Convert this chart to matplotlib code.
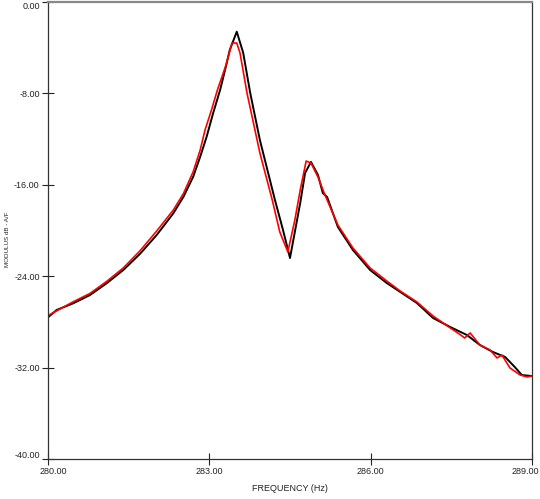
import numpy as np
import matplotlib.pyplot as plt
import matplotlib.transforms as mtransforms

plt.rcParams['font.family'] = ['Liberation Sans', 'DejaVu Sans']

# measured curve (black)
freq_meas = [280.00, 280.16, 280.47, 280.78, 281.09, 281.40, 281.71, 282.02, 282.33, 282.52,
             282.70, 282.83, 282.95, 283.07, 283.20, 283.30, 283.38, 283.51, 283.63, 283.76,
             283.94, 284.22, 284.37, 284.50, 284.69, 284.78, 284.89, 285.02, 285.11, 285.19,
             285.39, 285.67, 285.99, 286.30, 286.55, 286.86, 287.16, 287.48, 287.79, 288.03,
             288.27, 288.50, 288.68, 288.81, 289.00]
db_meas = [-27.60, -26.96, -26.37, -25.65, -24.62, -23.46, -22.05, -20.40, -18.50, -17.04,
           -15.29, -13.54, -11.79, -9.74, -7.70, -5.80, -4.20, -2.60, -4.46, -7.96,
           -12.08, -17.33, -19.96, -22.41, -17.59, -14.97, -14.00, -15.14, -16.72, -17.07,
           -19.69, -21.71, -23.46, -24.60, -25.38, -26.35, -27.66, -28.45, -29.15, -30.02,
           -30.63, -31.07, -31.95, -32.65, -32.74]

# synthesised curve (red)
freq_synth = [280.00, 280.46, 280.78, 281.09, 281.40, 281.71, 282.02, 282.33, 282.52, 282.70,
              282.83, 282.92, 283.04, 283.15, 283.31, 283.42, 283.51, 283.57, 283.70, 283.94,
              284.17, 284.31, 284.46, 284.59, 284.69, 284.80, 284.89, 285.02, 285.15, 285.39,
              285.67, 285.99, 286.30, 286.55, 286.86, 287.16, 287.48, 287.62, 287.75, 287.85,
              288.03, 288.22, 288.35, 288.44, 288.59, 288.78, 288.91, 289.00]
db_synth = [-27.45, -26.26, -25.51, -24.46, -23.28, -21.78, -20.05, -18.21, -16.75, -14.85,
            -12.95, -11.20, -9.45, -7.70, -5.51, -3.59, -3.59, -4.46, -7.96, -13.22,
            -17.33, -20.13, -21.88, -19.08, -16.46, -13.92, -14.09, -15.32, -16.89, -19.52,
            -21.53, -23.28, -24.42, -25.30, -26.26, -27.48, -28.53, -28.97, -29.41, -28.97,
            -30.02, -30.46, -31.16, -30.90, -32.03, -32.65, -32.82, -32.74]

x_ticks = [280, 283, 286, 289]
y_ticks = [0, -8, -16, -24, -32, -40]


def main():
    fig = plt.figure(figsize=(5.4, 4.99), dpi=100)
    ax = fig.add_axes([0.0889, 0.0802, 0.8963, 0.9158])

    ax.plot(freq_meas, db_meas, color='black', lw=1.4)
    ax.plot(freq_synth, db_synth, color='#ff0000', lw=1.2)

    ax.set_xlim(280, 289)
    ax.set_ylim(-40, 0)
    ax.set_xticks(x_ticks)
    ax.set_xticklabels(['{:.2f}'.format(v) for v in x_ticks])
    ax.set_yticks(y_ticks)
    ax.set_yticklabels(['{:.2f}'.format(v) if v != 0 else '0.00' for v in y_ticks])
    ax.tick_params(direction='inout', length=8, width=0.8, labelsize=6.5, colors='#222222', pad=2)

    # keep the end labels inside the figure, as in the original
    xlabels = ax.get_xticklabels()
    xlabels[0].set_transform(xlabels[0].get_transform() +
                             mtransforms.ScaledTranslation(5 / 100, 0, fig.dpi_scale_trans))
    xlabels[-1].set_transform(xlabels[-1].get_transform() +
                              mtransforms.ScaledTranslation(-7 / 100, 0, fig.dpi_scale_trans))
    ylabels = ax.get_yticklabels()
    ylabels[0].set_transform(ylabels[0].get_transform() +
                             mtransforms.ScaledTranslation(0, -4 / 100, fig.dpi_scale_trans))
    ylabels[-1].set_transform(ylabels[-1].get_transform() +
                              mtransforms.ScaledTranslation(0, 4 / 100, fig.dpi_scale_trans))

    for side in ['left', 'bottom', 'right']:
        ax.spines[side].set_color('#333333')
        ax.spines[side].set_linewidth(0.9)
    ax.spines['top'].set_color('#888888')
    ax.spines['top'].set_linewidth(1.6)

    fig.text(0.537, 0.012, 'FREQUENCY (Hz)', ha='center', va='bottom', fontsize=6.5, color='#222222')
    fig.text(0.014, 0.52, 'MODULUS dB - A/F', rotation=90, ha='center', va='center', fontsize=4.5,
             color='#222222')

    fig.savefig('out.png', dpi=100)
    plt.close(fig)


if __name__ == "__main__":
    main()
